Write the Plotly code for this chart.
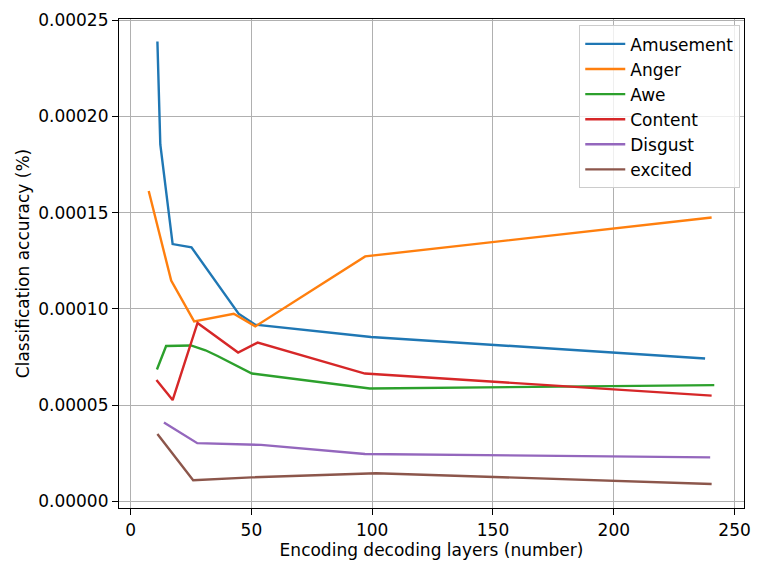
import plotly.graph_objects as go

series_names = ["Amusement", "Anger", "Awe", "Content", "Disgust", "excited"]
colors = ["#1f77b4", "#ff7f0e", "#2ca02c", "#d62728", "#9467bd", "#8c564b"]

amusement_x = [11.1, 12.3, 17.4, 25.2, 44.7, 51.6, 99.5, 237.8]
amusement_y = [0.000239, 0.0001855, 0.0001337, 0.000132, 0.0000975, 0.0000918, 0.0000854, 0.0000742]

anger_x = [7.5, 16.8, 26.3, 42.7, 51.6, 97.1, 240.5]
anger_y = [0.0001613, 0.0001147, 0.0000935, 0.0000975, 0.0000909, 0.0001273, 0.0001475]

awe_x = [10.9, 14.7, 25.0, 31.0, 36.0, 42.0, 50.2, 99.0, 241.6]
awe_y = [0.0000685, 0.0000807, 0.000081, 0.0000785, 0.0000755, 0.0000716, 0.0000664, 0.0000586, 0.0000604]

content_x = [10.7, 17.4, 27.7, 44.5, 52.6, 97.0, 240.5]
content_y = [0.000063, 0.0000526, 0.0000927, 0.0000773, 0.0000825, 0.0000664, 0.0000549]

disgust_x = [13.8, 27.6, 54.0, 97.0, 239.9]
disgust_y = [0.000041, 0.0000302, 0.0000293, 0.0000246, 0.0000228]

excited_x = [11.1, 25.9, 50.0, 101.6, 240.5]
excited_y = [0.000035, 0.0000109, 0.0000124, 0.0000146, 0.000009]

x_ticks = [0, 50, 100, 150, 200, 250]
y_ticks = [0.0, 0.00005, 0.00010, 0.00015, 0.00020, 0.00025]

all_x = [amusement_x, anger_x, awe_x, content_x, disgust_x, excited_x]
all_y = [amusement_y, anger_y, awe_y, content_y, disgust_y, excited_y]

fig = go.Figure()
for name, c, xs, ys in zip(series_names, colors, all_x, all_y):
    fig.add_trace(go.Scatter(x=xs, y=ys, mode="lines", name=name,
                             line=dict(color=c, width=2.4)))

font = "DejaVu Sans, Verdana, sans-serif"
axis_common = dict(
    showline=True, linecolor="black", linewidth=1.2, mirror=True,
    showgrid=True, gridcolor="#b0b0b0", gridwidth=1,
    ticks="outside", ticklen=6, tickwidth=1.2, tickcolor="black",
    zeroline=False, tickfont=dict(family=font, size=17, color="black"),
)
fig.update_xaxes(range=[-4.8, 253.9], tickvals=x_ticks,
                 title=dict(text="Encoding decoding layers (number)",
                            font=dict(family=font, size=17, color="black"), standoff=5),
                 **axis_common)
fig.update_yaxes(range=[-0.0000035, 0.0002507], tickvals=y_ticks, tickformat=".5f",
                 title=dict(text="Classification accuracy (%)",
                            font=dict(family=font, size=17, color="black"), standoff=4),
                 **axis_common)

fig.update_layout(
    width=758, height=563,
    margin=dict(l=119, r=7, t=19, b=53),
    plot_bgcolor="white", paper_bgcolor="white",
    font=dict(family=font, size=17, color="black"),
    legend=dict(x=0.994, y=0.987, xanchor="right", yanchor="top",
                bgcolor="rgba(255,255,255,0.8)", bordercolor="#cccccc", borderwidth=1,
                font=dict(family=font, size=17, color="black"),
                itemwidth=40, tracegroupgap=0),
    showlegend=True,
)

fig.write_html("out.html", config={"displayModeBar": False},
               post_script="document.body.style.margin='0';document.body.style.overflow='hidden';")
